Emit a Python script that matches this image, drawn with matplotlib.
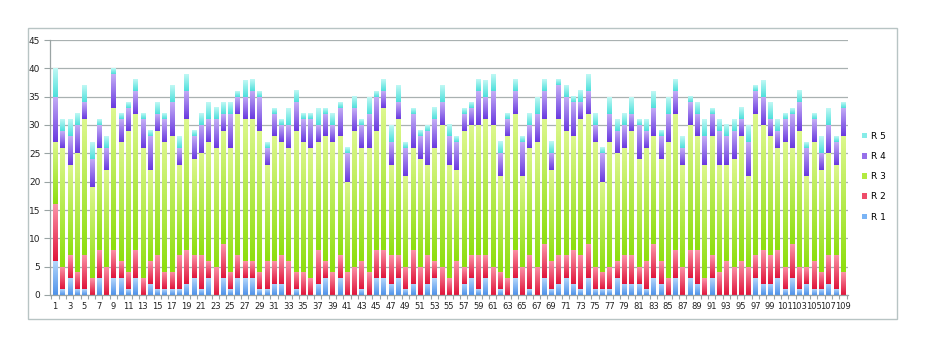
import numpy as np
import matplotlib
matplotlib.use("Agg")
import matplotlib.pyplot as plt
from matplotlib.patches import Patch, Rectangle
from matplotlib.colors import LinearSegmentedColormap

categories = list(range(1, 110))
series_names = ["R 1", "R 2", "R 3", "R 4", "R 5"]

r1 = [6,1,3,1,1,0,3,0,3,3,1,3,0,2,1,1,1,1,2,3,1,3,0,3,1,3,3,3,1,1,
      2,2,0,1,0,0,2,3,0,3,0,0,1,0,3,3,2,3,1,2,0,2,3,0,0,0,2,3,1,3,
      0,1,0,3,0,1,0,3,1,2,3,2,1,3,1,1,1,3,2,2,2,1,3,2,0,3,0,3,2,0,
      3,0,0,0,0,0,3,2,2,3,1,3,1,2,1,1,2,1,0]
r2 = [10,4,4,3,6,3,5,5,5,3,3,5,3,4,6,3,3,6,6,4,6,3,5,6,3,4,3,3,3,5,
      4,5,6,3,4,3,6,3,4,4,4,5,5,4,5,5,5,4,4,6,5,5,3,5,3,6,3,4,6,4,
      5,3,3,5,5,6,5,6,5,5,4,6,6,6,4,3,4,3,5,5,3,5,6,4,3,5,5,5,6,3,
      4,4,6,5,6,5,4,6,5,5,4,6,4,3,5,3,5,6,4]
r3 = [11,21,16,21,24,16,18,17,25,21,25,24,23,16,22,23,24,16,23,17,18,21,21,20,22,25,25,25,25,17,
      22,20,20,25,23,23,19,22,23,21,16,24,20,22,21,25,16,24,16,18,19,16,20,25,20,16,24,23,23,24,
      25,17,25,24,16,19,22,22,16,24,22,20,24,23,22,16,22,19,19,22,19,20,19,18,24,24,18,22,20,20,
      21,19,17,19,22,16,25,22,21,18,22,17,24,16,21,18,18,16,24]
r4 = [8,3,5,5,3,5,4,4,6,4,4,4,5,6,3,4,6,3,5,4,5,4,5,3,6,3,4,5,6,3,
      4,3,4,5,4,5,3,4,3,5,5,4,4,6,6,3,4,3,5,6,4,6,5,4,5,5,3,3,6,4,
      6,4,3,4,6,4,5,5,3,6,6,6,3,4,3,5,5,4,4,3,6,3,5,4,5,4,3,4,4,5,
      4,6,5,5,3,6,4,5,3,3,4,6,5,5,4,3,5,4,5]
r5 = [5,2,3,2,3,3,1,2,1,1,1,2,1,1,2,1,3,2,3,1,2,3,2,2,2,1,3,2,1,1,
      1,1,3,2,1,1,3,1,2,1,1,2,1,3,1,2,3,3,1,1,1,1,2,3,2,1,1,1,2,3,
      3,2,1,2,1,2,3,2,2,1,2,1,2,3,2,1,3,2,2,3,1,2,3,1,3,2,2,1,2,3,
      1,2,2,2,2,3,1,3,3,2,1,1,2,1,1,3,3,1,1]

values = [r1, r2, r3, r4, r5]
grad_colors = [("#4f93ea", "#b3d6fb"),
               ("#e0163c", "#fb94a8"),
               ("#8ede10", "#dcf78c"),
               ("#6a3ae0", "#c4aef5"),
               ("#4fe0dc", "#bff8f4")]
mid_colors = ["#7ab4f5", "#ee4d6a", "#b2ea40", "#9670ea", "#86ece8"]

fig = plt.figure(figsize=(9.27, 3.48), dpi=100)
ax = fig.add_axes([50/927, 1-295/348, (848-50)/927, (295-40)/348])

x = np.array(categories, dtype=float)
w = 0.55
bottom = np.zeros(len(x))
grad = np.linspace(0, 1, 32).reshape(-1, 1)
for k, vals in enumerate(values):
    v = np.array(vals, dtype=float)
    cmap = LinearSegmentedColormap.from_list("g%d" % k, list(grad_colors[k]))
    for xi, b, h in zip(x, bottom, v):
        if h > 0:
            ax.imshow(grad, cmap=cmap, extent=(xi - w/2, xi + w/2, b, b + h),
                      aspect="auto", origin="lower", interpolation="bilinear", zorder=2)
    bottom = bottom + v

ax.set_xlim(0.31, 109.69)
ax.set_ylim(0, 45)
ax.set_yticks(np.arange(0, 46, 5))
ax.yaxis.grid(True, color="#a9b1b1", linewidth=0.9, zorder=0)
ax.set_axisbelow(True)

ax.set_xticks(np.arange(0.5, 110, 1.0))
ax.set_xticklabels([])
ax.set_xticks([c for c in categories if c % 2 == 1], minor=True)
ax.set_xticklabels([str(c) for c in categories if c % 2 == 1], minor=True)
ax.tick_params(axis="x", which="major", length=3, color="#9aa4a4", width=0.8)
ax.tick_params(axis="x", which="minor", length=0, labelsize=6.0, pad=5, labelcolor="#222222")
ax.tick_params(axis="y", length=4, color="#9aa4a4", width=0.8, labelsize=6.5, pad=3, labelcolor="#222222")

for s in ["top", "right"]:
    ax.spines[s].set_visible(False)
for s in ["left", "bottom"]:
    ax.spines[s].set_color("#9aa4a4")
    ax.spines[s].set_linewidth(0.9)

fig.patches.append(Rectangle((28/927, 1-319/348), (897-28)/927, (319-28)/348,
                             transform=fig.transFigure, fill=False,
                             edgecolor="#b8c4c4", linewidth=1.0))

handles = [Patch(facecolor=mid_colors[k], edgecolor="none", label=series_names[k]) for k in range(5)][::-1]
fig.legend(handles=handles, loc="upper left", bbox_to_anchor=(858/927, 1-128/348),
           frameon=False, fontsize=6.5, handlelength=0.6, handleheight=0.6,
           handletextpad=0.4, labelspacing=1.25, borderaxespad=0)

fig.savefig("out.png", dpi=100)
